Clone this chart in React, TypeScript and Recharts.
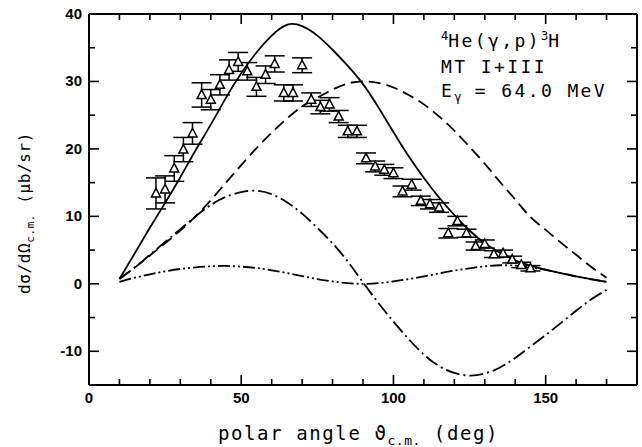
import { ComposedChart, Line, Scatter, ErrorBar, XAxis, YAxis } from "recharts";

// theory curves, read every 5 deg
const curveAngles = [
  10, 15, 20, 25, 30, 35, 40, 45, 50, 55, 60, 65, 70, 75, 80, 85, 90, 95, 100,
  105, 110, 115, 120, 125, 130, 135, 140, 145, 150, 155, 160, 165, 170,
];
const solidValues = [
  0.7, 4.5, 8.3, 12.0, 15.8, 19.8, 23.6, 27.6, 31.2, 34.3, 36.8, 38.4, 38.2,
  36.8, 34.7, 32.3, 29.6, 26.2, 22.5, 18.9, 15.7, 12.8, 10.2, 7.9, 6.0, 4.6,
  3.5, 2.7, 2.1, 1.6, 1.1, 0.7, 0.3,
];
const dashedValues = [
  0.8, 2.4, 4.2, 6.0, 7.9, 10.0, 12.4, 15.0, 17.6, 20.1, 22.4, 24.5, 26.3,
  27.6, 28.8, 29.7, 30.0, 29.8, 29.1, 28.0, 26.6, 24.8, 22.7, 20.3, 17.8, 15.1,
  12.5, 9.9, 8.0, 6.1, 4.3, 2.5, 0.9,
];
const dashDotValues = [
  0.7, 2.4, 4.3, 6.2, 8.1, 10.0, 11.7, 12.9, 13.6, 13.8, 13.3, 12.1, 10.4, 8.3,
  6.0, 3.3, 0.2, -2.8, -5.6, -8.2, -10.5, -12.2, -13.2, -13.6, -13.3, -12.4,
  -11.0, -9.3, -7.6, -5.8, -4.0, -2.3, -0.9,
];
const dashDotDotValues = [
  0.3, 0.9, 1.4, 1.85, 2.2, 2.45, 2.6, 2.65, 2.55, 2.35, 2.0, 1.6, 1.15, 0.7,
  0.35, 0.1, 0.0, 0.1, 0.35, 0.7, 1.1, 1.55, 1.95, 2.3, 2.6, 2.75, 2.7, 2.45,
  2.05, 1.6, 1.1, 0.65, 0.3,
];

// measured points
const dataAngles = [
  22, 25, 28, 31, 34, 37, 40, 43, 46, 49, 52, 55, 58, 61, 64, 67, 70, 73, 76,
  79, 82, 85, 88, 91, 94, 97, 100, 103, 106, 109, 112, 115, 118, 121, 124, 127,
  130, 133, 136, 139, 142, 145,
];
const dataValues = [
  13.4, 14.0, 17.1, 19.9, 22.3, 28.0, 27.3, 29.5, 31.7, 32.9, 31.5, 29.2, 31.0,
  32.6, 28.3, 28.3, 32.4, 27.3, 26.2, 26.6, 24.8, 22.6, 22.6, 18.6, 17.4, 16.9,
  16.4, 13.7, 14.7, 12.3, 11.8, 11.3, 7.5, 9.3, 7.5, 5.6, 5.9, 4.4, 4.5, 3.6,
  2.8, 2.3,
];
const dataErrors = [
  2.3, 2.0, 1.9, 1.8, 1.6, 1.8, 1.5, 1.5, 1.5, 1.4, 1.3, 1.4, 1.3, 1.2, 1.2,
  1.2, 1.1, 1.0, 1.0, 1.0, 0.9, 0.9, 0.9, 0.8, 0.8, 0.8, 0.8, 0.8, 0.8, 0.7,
  0.7, 0.7, 0.7, 0.7, 0.6, 0.6, 0.6, 0.5, 0.5, 0.5, 0.4, 0.4,
];

const xTicks = [0, 10, 20, 30, 40, 50, 60, 70, 80, 90, 100, 110, 120, 130, 140, 150, 160, 170, 180];
const yTicks = [-15, -10, -5, 0, 5, 10, 15, 20, 25, 30, 35, 40];

const toCurve = (vals: number[]) => curveAngles.map((x, i) => ({ x, y: vals[i] }));
const solid = toCurve(solidValues);
const dashed = toCurve(dashedValues);
const dashDot = toCurve(dashDotValues);
const dashDotDot = toCurve(dashDotDotValues);
const points = dataAngles.map((x, i) => ({ x, y: dataValues[i], err: dataErrors[i] }));

const tickFont = {
  fontFamily: "'Liberation Sans', Arial, sans-serif",
  fontWeight: 700,
  fontSize: 15,
  fill: "#000",
};
const mono = "'DejaVu Sans Mono', monospace";

function BottomTick({ x, y, payload }: any) {
  const v = payload.value;
  const major = v % 50 === 0;
  return (
    <g>
      {v > 0 && v < 180 && (
        <line x1={x} x2={x} y1={y} y2={y - (major ? 10 : 6)} stroke="#000" strokeWidth={1.6} />
      )}
      {major && (
        <text x={x} y={y + 18} textAnchor="middle" {...tickFont}>
          {v}
        </text>
      )}
    </g>
  );
}

function TopTick({ x, y, payload }: any) {
  const v = payload.value;
  if (v <= 0 || v >= 180) return <g />;
  return <line x1={x} x2={x} y1={y} y2={y + (v % 50 === 0 ? 10 : 6)} stroke="#000" strokeWidth={1.6} />;
}

function LeftTick({ x, y, payload }: any) {
  const v = payload.value;
  const major = v % 10 === 0;
  return (
    <g>
      {v > -15 && v < 40 && (
        <line x1={x} x2={x + (major ? 10 : 6)} y1={y} y2={y} stroke="#000" strokeWidth={1.6} />
      )}
      {major && (
        <text x={x - 7} y={y + 5} textAnchor="end" {...tickFont}>
          {v}
        </text>
      )}
    </g>
  );
}

function RightTick({ x, y, payload }: any) {
  const v = payload.value;
  if (v <= -15 || v >= 40) return <g />;
  return <line x1={x} x2={x - (v % 10 === 0 ? 10 : 6)} y1={y} y2={y} stroke="#000" strokeWidth={1.6} />;
}

function Triangle({ cx, cy }: any) {
  return (
    <polygon
      points={`${cx},${cy - 5} ${cx - 4.5},${cy + 3.5} ${cx + 4.5},${cy + 3.5}`}
      fill="#fff"
      stroke="#000"
      strokeWidth={1.5}
    />
  );
}

const axisLine = { stroke: "#000", strokeWidth: 2 };

export default function App() {
  return (
    <div style={{ position: "absolute", left: 0, top: 0, width: 642, height: 447, background: "#fff" }}>
      <ComposedChart width={642} height={447} margin={{ top: 13, right: 4, bottom: 12, left: 0 }}>
        <XAxis
          dataKey="x"
          type="number"
          domain={[0, 180]}
          allowDataOverflow
          ticks={xTicks}
          interval={0}
          height={50}
          tickSize={0}
          tickMargin={0}
          tickLine={false}
          axisLine={axisLine}
          tick={(p: any) => <BottomTick {...p} />}
        />
        <XAxis
          xAxisId="top"
          dataKey="x"
          orientation="top"
          type="number"
          domain={[0, 180]}
          allowDataOverflow
          ticks={xTicks}
          interval={0}
          height={1}
          tickSize={0}
          tickMargin={0}
          tickLine={false}
          axisLine={axisLine}
          tick={(p: any) => <TopTick {...p} />}
        />
        <YAxis
          dataKey="y"
          type="number"
          domain={[-15, 40]}
          allowDataOverflow
          ticks={yTicks}
          interval={0}
          width={89}
          tickSize={0}
          tickMargin={0}
          tickLine={false}
          axisLine={axisLine}
          tick={(p: any) => <LeftTick {...p} />}
        />
        <YAxis
          yAxisId="right"
          dataKey="y"
          orientation="right"
          type="number"
          domain={[-15, 40]}
          allowDataOverflow
          ticks={yTicks}
          interval={0}
          width={1}
          tickSize={0}
          tickMargin={0}
          tickLine={false}
          axisLine={axisLine}
          tick={(p: any) => <RightTick {...p} />}
        />
        <Line data={solid} dataKey="y" type="natural" stroke="#000" strokeWidth={1.8} dot={false} isAnimationActive={false} />
        <Line data={dashed} dataKey="y" type="natural" stroke="#000" strokeWidth={1.8} strokeDasharray="12 6" dot={false} isAnimationActive={false} />
        <Line data={dashDot} dataKey="y" type="natural" stroke="#000" strokeWidth={1.8} strokeDasharray="14 4 2 4" dot={false} isAnimationActive={false} />
        <Line data={dashDotDot} dataKey="y" type="natural" stroke="#000" strokeWidth={1.8} strokeDasharray="12 3 2 3 2 3" dot={false} isAnimationActive={false} />
        {/* points sit on the mirrored axes so the frame gets drawn */}
        <Scatter
          data={points}
          dataKey="y"
          xAxisId="top"
          yAxisId="right"
          shape={(p: any) => <Triangle {...p} />}
          isAnimationActive={false}
        >
          <ErrorBar dataKey="err" direction="y" width={10} stroke="#000" strokeWidth={1.5} />
        </Scatter>
      </ComposedChart>
      <svg width={642} height={447} style={{ position: "absolute", left: 0, top: 0, pointerEvents: "none" }}>
        <text x={218} y={440} fontFamily={mono} fontSize={19} letterSpacing={1.6} fill="#000">
          polar angle ϑ
          <tspan fontSize={13} dy={5} letterSpacing={0.5}>c.m.</tspan>
          <tspan dy={-5}> (deg)</tspan>
        </text>
        <text
          x={30}
          y={213}
          transform="rotate(-90 30 213)"
          textAnchor="middle"
          fontFamily={mono}
          fontSize={16}
          letterSpacing={0.6}
          fill="#000"
        >
          dσ/dΩ
          <tspan fontSize={11} dy={4}>c.m.</tspan>
          <tspan dy={-4}>  (μb/sr)</tspan>
        </text>
        <g fontFamily={mono} fontSize={18} letterSpacing={2.4} fill="#000">
          <text x={441} y={47}>
            <tspan fontSize={12} dy={-7} letterSpacing={0}>4</tspan>
            <tspan dy={7}>He(γ,p)</tspan>
            <tspan fontSize={12} dy={-7} letterSpacing={0}>3</tspan>
            <tspan dy={7}>H</tspan>
          </text>
          <text x={441} y={73}>MT I+III</text>
          <text x={441} y={97}>
            E<tspan fontSize={12} dy={4} letterSpacing={0}>γ</tspan>
            <tspan dy={-4}> = 64.0 MeV</tspan>
          </text>
        </g>
      </svg>
    </div>
  );
}
